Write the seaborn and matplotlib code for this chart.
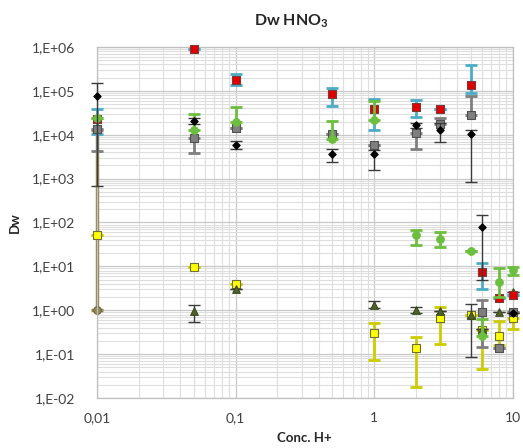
import numpy as np
import pandas as pd
import matplotlib
matplotlib.use("Agg")
import matplotlib.pyplot as plt
from matplotlib.ticker import FuncFormatter, LogLocator, FixedLocator
import seaborn as sns

nan = np.nan

# concentration of H+ (x axis)
conc = [0.01, 0.05, 0.1, 0.5, 1, 2, 3, 5, 6, 8, 10]

# series values and error-bar bounds (lo / hi)
black = [76600, 20600, 5770, 3600, 3730, 16400, 13100, 10600, 77, nan, 0.88]
black_lo = [682, 17500, 4700, 2400, 1580, 14000, 6850, 830, 5, nan, nan]
black_hi = [155000, 24000, 7200, 4700, 4500, 19000, 19000, 13000, 147, nan, nan]

red = [23000, 920000, 181000, 84000, 39500, 44000, 39500, 139000, 7.5, 1.86, 2.2]
red_lo = [10400, nan, 134000, 45000, 13100, 26000, nan, 90000, 3.1, nan, nan]
red_hi = [38000, nan, 239000, 119000, 65000, 61000, nan, 380000, 12, nan, nan]

green = [24700, 12700, 19300, 7900, 22000, 50.6, 43, 22.5, 0.26, 4.4, 8.1]
green_lo = [nan, nan, nan, nan, nan, 31, 28, nan, nan, 2.0, 6.2]
green_hi = [nan, 29000, 43000, 21000, 60000, 69, 60, nan, 0.63, 9.2, 9.8]

gray = [13800, 8600, 14600, 10600, 5900, 11000, 17600, 28000, 0.91, 0.135, 0.91]
gray_lo = [4300, 3900, nan, nan, nan, 4700, nan, nan, 0.147, nan, nan]
gray_hi = [nan, nan, nan, nan, nan, nan, 24000, 75000, 1.7, nan, nan]

yellow = [51, 9.6, 4.07, nan, 0.30, 0.135, 0.66, 0.80, 0.355, 0.257, 0.65]
yellow_lo = [nan, nan, nan, nan, 0.073, 0.018, 0.17, nan, 0.047, 0.16, 0.37]
yellow_hi = [nan, nan, nan, nan, 0.51, 0.25, 1.19, nan, nan, 0.57, nan]

tri = [nan, 0.95, 2.98, nan, 1.35, 1.0, 0.95, 0.80, 0.37, 0.92, 2.6]
tri_lo = [nan, 0.54, nan, nan, 1.15, 0.85, nan, 0.087, nan, nan, nan]
tri_hi = [nan, 1.35, nan, nan, 1.6, 1.2, nan, 1.4, nan, nan, nan]

olive = [1.0, nan, nan, nan, nan, nan, nan, nan, nan, nan, nan]
olive_lo = [nan] * 11
olive_hi = [13000, nan, nan, nan, nan, nan, nan, nan, nan, nan, nan]

sns.set_style("white")
plt.rcParams['font.family'] = ['Lato', 'DejaVu Sans']
plt.rcParams['mathtext.fontset'] = 'custom'
plt.rcParams['mathtext.bf'] = 'Lato:bold'
plt.rcParams['mathtext.rm'] = 'Lato'

fig = plt.figure(figsize=(5.23, 4.48), dpi=100)
ax = fig.add_axes([97 / 523, 1 - 398 / 448, (512.5 - 97) / 523, (398 - 47) / 448])

# (values, lo, hi, marker, face, edge, size, err colour, err width, zorder)
series = [
    (olive, olive_lo, olive_hi, 'o', '#948a54', '#6b6238', 30, '#948a54', 2.5, 2),
    (yellow, yellow_lo, yellow_hi, 's', '#ffff00', '#6f6f30', 34, '#cccc00', 2.0, 3),
    (tri, tri_lo, tri_hi, '^', '#4f6228', '#3a4a1c', 30, '#3c3c3c', 1.0, 4),
    (red, red_lo, red_hi, 's', '#e00000', '#7a3a3a', 36, '#4bacc6', 2.0, 5),
    (gray, gray_lo, gray_hi, 's', '#7f7f7f', '#505050', 36, '#7f7f7f', 2.0, 6),
    (green, green_lo, green_hi, 'o', '#6cbf3e', '#6cbf3e', 30, '#6cbf3e', 2.0, 7),
    (black, black_lo, black_hi, 'D', '#000000', '#000000', 14, '#3a3a3a', 1.0, 8),
]

for vals, lo, hi, mk, face, edge, size, ecol, elw, z in series:
    df = pd.DataFrame({'conc': conc, 'dw': vals, 'lo': lo, 'hi': hi}).dropna(subset=['dw'])
    lo_e = (df['dw'] - df['lo'].fillna(df['dw'])).values
    hi_e = (df['hi'].fillna(df['dw']) - df['dw']).values
    eb = ax.errorbar(df['conc'], df['dw'], yerr=[lo_e, hi_e], fmt='none', ecolor=ecol,
                     elinewidth=elw, capsize=4, capthick=elw, zorder=z)
    for art in list(eb.lines[1]) + list(eb.lines[2]):
        art.set_clip_on(False)
    sns.scatterplot(data=df, x='conc', y='dw', marker=mk, color=face, edgecolor=edge,
                    linewidth=0.8, s=size, ax=ax, zorder=z + 0.5, legend=False,
                    clip_on=False)

ax.set_xscale('log')
ax.set_yscale('log')
ax.set_xlim(0.01, 10)
ax.set_ylim(1e-2, 1e6)

ax.yaxis.set_major_locator(LogLocator(base=10, numticks=20))
ax.yaxis.set_minor_locator(LogLocator(base=10, subs=np.arange(2, 10), numticks=20))
ax.xaxis.set_major_locator(FixedLocator([0.01, 0.1, 1, 10]))
ax.xaxis.set_minor_locator(LogLocator(base=10, subs=np.arange(2, 10), numticks=20))
ax.yaxis.set_major_formatter(FuncFormatter(lambda v, p: "1,E{:+03d}".format(int(round(np.log10(v))))))
xlab = {0.01: '0,01', 0.1: '0,1', 1: '1', 10: '10'}
ax.xaxis.set_major_formatter(FuncFormatter(lambda v, p: xlab.get(round(v, 4), '')))

ax.grid(True, which='major', color='#c8c8c8', lw=0.9)
ax.grid(True, which='minor', color='#dedede', lw=0.8)
ax.set_axisbelow(True)
ax.tick_params(which='both', length=0, labelsize=10, colors='#404040')
ax.tick_params(axis='y', pad=16)
ax.tick_params(axis='x', pad=10)
for s in ax.spines.values():
    s.set_color('#bfbfbf')
    s.set_linewidth(0.9)

ax.set_xlabel('Conc. H+', fontsize=9.5, fontweight='bold', color='#262626')
ax.xaxis.set_label_coords(0.5, (398 - 432) / 351)
ax.set_ylabel('Dw', fontsize=9.5, fontweight='bold', color='#262626', labelpad=8)
fig.text(291 / 523, 1 - 21 / 448, r'Dw HNO$_\mathbf{3}$', ha='center', va='center',
         fontsize=11.5, fontweight='bold', color='#262626')

fig.savefig('out.png', dpi=100)
